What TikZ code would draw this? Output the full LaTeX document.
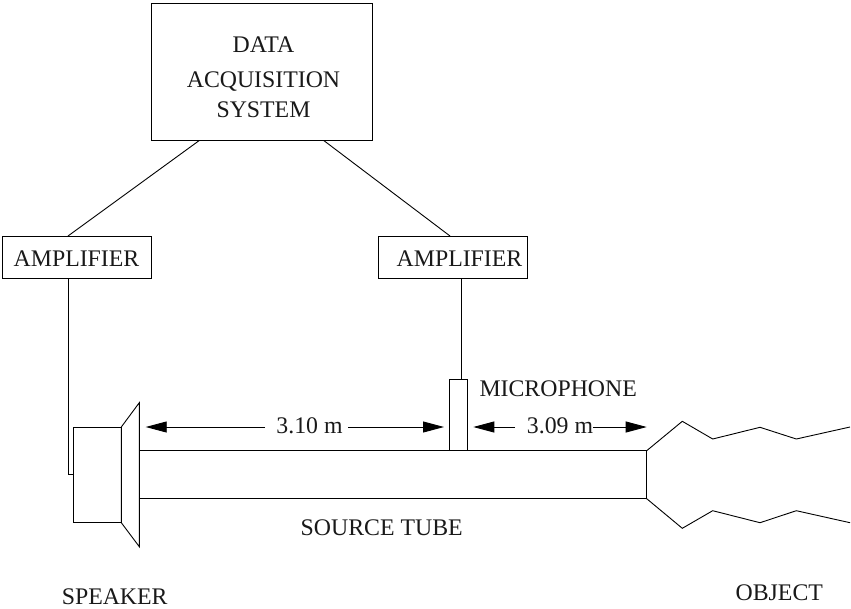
\documentclass[tikz,border=0pt]{standalone}
\usepackage{fontspec}
\setmainfont{Liberation Serif}
\usetikzlibrary{arrows.meta}
\tikzset{
  line/.style={draw=black,line width=0.9pt,line join=miter},
  lbl/.style={inner sep=0pt,font=\fontsize{23.8}{24}\selectfont,text=black!90},
  dim/.style={draw=black,line width=0.9pt,-{Triangle[length=21pt,width=11pt]}}
}
\begin{document}
\begin{tikzpicture}[x=1pt,y=-1pt]
\useasboundingbox (0,0) rectangle (851,608);
\node[line,rectangle,minimum width=221pt,minimum height=137pt,anchor=north west,outer sep=0pt] (das) at (151,3.7) {};
\node[lbl,align=center,anchor=base] (dastext) at (263.5,117) {DATA\\[11pt]ACQUISITION\\[6pt]SYSTEM};
\node[line,rectangle,minimum width=148.5pt,minimum height=42pt,anchor=north west,outer sep=0pt] (ampl) at (2.5,236) {};
\node[lbl,anchor=base] (ampltext) at (76.5,266) {AMPLIFIER};
\node[line,rectangle,minimum width=149pt,minimum height=42pt,anchor=north west,outer sep=0pt] (ampr) at (378,236) {};
\node[lbl,anchor=base] (amprtext) at (459.5,266) {AMPLIFIER};
\coordinate (dl) at (199,140.7); \coordinate (dr) at (324,140.7);
\coordinate (al) at (68,236); \coordinate (ar) at (450,236);
\draw[line] (dl) -- (al);
\draw[line] (dr) -- (ar);
\node[line,rectangle,minimum width=47.6pt,minimum height=95.7pt,anchor=north west,outer sep=0pt] (spk) at (73.7,427) {};
\coordinate (sa) at (121.3,427); \coordinate (sb) at (139.3,402.7); \coordinate (sc) at (139.3,546.7); \coordinate (sd) at (121.3,522.7);
\draw[line] (sa) -- (sb) -- (sc) -- (sd) -- cycle;
\coordinate (wl) at (68,278); \coordinate (wb) at (68,474.7); \coordinate (wc) at (73.7,474.7);
\draw[line] (wl) -- (wb) -- (wc);
\coordinate (ta) at (139.3,450.7); \coordinate (tb) at (646.7,450.7); \coordinate (tc) at (646.7,498.7); \coordinate (td) at (139.3,498.7);
\draw[line] (ta) -- (tb) -- (tc) -- (td);
\node[line,rectangle,minimum width=18pt,minimum height=71.4pt,anchor=north west,outer sep=0pt] (mic) at (449.7,379.3) {};
\coordinate (wr) at (461.7,278); \coordinate (wr2) at (461.7,379.3);
\draw[line] (wr) -- (wr2);
\node[lbl,anchor=base west] (miclbl) at (479.3,396.7) {MICROPHONE};
\node[lbl,anchor=base] (d1) at (309.5,433) {3.10 m};
\node[lbl,anchor=base] (d2) at (560,433) {3.09 m};
\coordinate (s1) at (265,427); \coordinate (s2) at (348,427); \coordinate (s3) at (515,427); \coordinate (s4) at (593,427);
\coordinate (a1) at (145.7,427); \coordinate (a2) at (444,427); \coordinate (a3) at (473.3,427); \coordinate (a4) at (646.7,427);
\draw[dim] (s1) -- (a1);
\draw[dim] (s2) -- (a2);
\draw[dim] (s3) -- (a3);
\draw[dim] (s4) -- (a4);
\draw[line] (tb) -- (682.3,421.3) -- (712.7,439) -- (760,427.3) -- (796.3,439) -- (850,427);
\draw[line] (tc) -- (682.3,528.3) -- (712.7,510.7) -- (760,522.7) -- (796.3,510.7) -- (850,522.7);
\node[lbl,anchor=base] (st) at (381.7,535) {SOURCE TUBE};
\node[lbl,anchor=base] (sl) at (114.7,604.5) {SPEAKER};
\node[lbl,anchor=base] (ol) at (779.3,600) {OBJECT};
\end{tikzpicture}
\end{document}
